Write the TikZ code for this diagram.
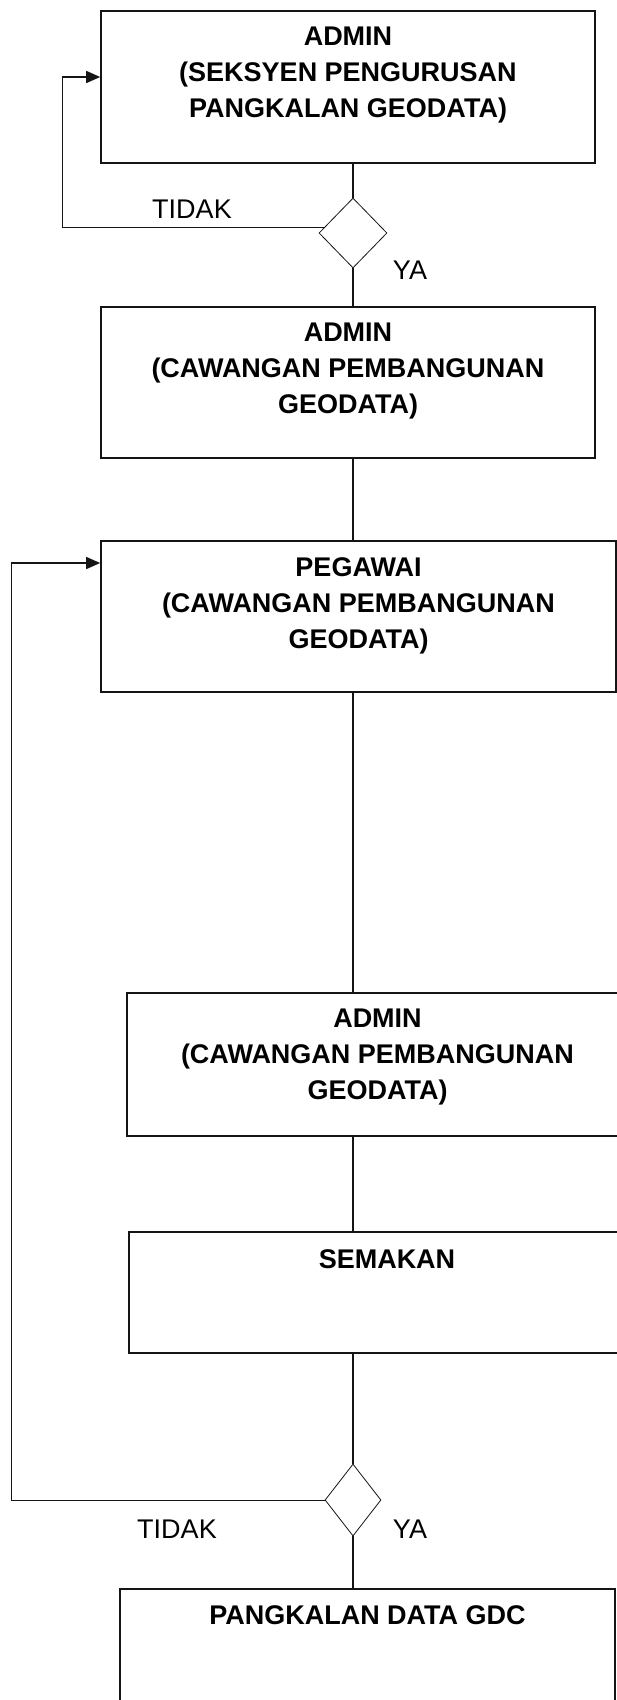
\documentclass[tikz,border=0pt]{standalone}
\usepackage{fontspec}
\setmainfont{Liberation Sans}
\usepackage{xcolor}
\usepackage{tikz}
\usetikzlibrary{shapes.geometric,arrows.meta,positioning}
\definecolor{FCBlack}{HTML}{000000}
\definecolor{FCLine} {HTML}{141414}

\begin{document}
\begin{tikzpicture}[x=1pt,y=-1pt,
    stepbox/.style={draw=FCLine,line width=1.6pt,inner sep=0pt},
    boxtitle/.style={font=\fontsize{27}{36}\selectfont\bfseries,text=FCBlack,align=center,inner sep=0pt},
    decide/.style={diamond,draw=FCLine,line width=0.8pt,inner sep=0pt},
    link/.style={draw=FCLine,line width=1.2pt},
    backlink/.style={draw=FCLine,line width=0.8pt},
    answer/.style={font=\fontsize{27}{30}\selectfont,text=FCBlack,inner sep=0pt}]
  \useasboundingbox (0,0) rectangle (617,1700);
  % Box 1
  \node[stepbox,minimum width=494pt,minimum height=152pt] (b1) at (348,87) {};
  \node[boxtitle,below=17pt of b1.north] (t1) {ADMIN\\(SEKSYEN PENGURUSAN\\PANGKALAN GEODATA)};
  % Decision 1
  \node[decide,minimum width=68pt,minimum height=70pt] (d1) at (353,233) {};
  \node[answer] (no1)  at (192,209) {TIDAK};
  \node[answer] (yes1) at (410,270) {YA};
  % Box 2
  \node[stepbox,minimum width=494pt,minimum height=151pt] (b2) at (348,382.5) {};
  \node[boxtitle,below=17pt of b2.north] (t2) {ADMIN\\(CAWANGAN PEMBANGUNAN\\GEODATA)};
  % Box 3
  \node[stepbox,minimum width=515pt,minimum height=151pt] (b3) at (358.5,616.5) {};
  \node[boxtitle,below=17pt of b3.north] (t3) {PEGAWAI\\(CAWANGAN PEMBANGUNAN\\GEODATA)};
  % Box 4
  \node[stepbox,minimum width=501pt,minimum height=143pt] (b4) at (377.5,1064.5) {};
  \node[boxtitle,below=17pt of b4.north] (t4) {ADMIN\\(CAWANGAN PEMBANGUNAN\\GEODATA)};
  % Box 5
  \node[stepbox,minimum width=516pt,minimum height=121pt] (b5) at (387,1292.5) {};
  \node[boxtitle,below=18pt of b5.north] (t5) {SEMAKAN};
  % Decision 2
  \node[decide,minimum width=56pt,minimum height=72pt] (d2) at (353,1500) {};
  \node[answer] (no2)  at (177,1529) {TIDAK};
  \node[answer] (yes2) at (410,1529) {YA};
  % Box 6
  \node[stepbox,minimum width=495pt,minimum height=151pt] (b6) at (367.5,1664.5) {};
  \node[boxtitle,below=17pt of b6.north] (t6) {PANGKALAN DATA GDC};
  % Main line
  \draw[link] (b1.south -| d1.north) -- (d1.north);
  \draw[link] (d1.south) -- (b2.north -| d1.south);
  \draw[link] (b2.south -| d1.north) -- (b3.north -| d1.north);
  \draw[link] (b3.south -| d1.north) -- (b4.north -| d1.north);
  \draw[link] (b4.south -| d2.north) -- (b5.north -| d2.north);
  \draw[link] (b5.south -| d2.north) -- (d2.north);
  \draw[link] (d2.south) -- (b6.north -| d2.south);
  % Loops back
  \coordinate (l1) at (62,77);
  \coordinate (l2) at (11,563);
  \draw[backlink] (d1.170) -| (l1);
  \draw[backlink,line width=1.4pt,-{Triangle[length=14pt,width=12pt]}] (l1) -- (l1 -| b1.west);
  \draw[backlink] (d2.west) -| (l2);
  \draw[backlink,line width=1.4pt,-{Triangle[length=14pt,width=12pt]}] (l2) -- (l2 -| b3.west);
\end{tikzpicture}
\end{document}
